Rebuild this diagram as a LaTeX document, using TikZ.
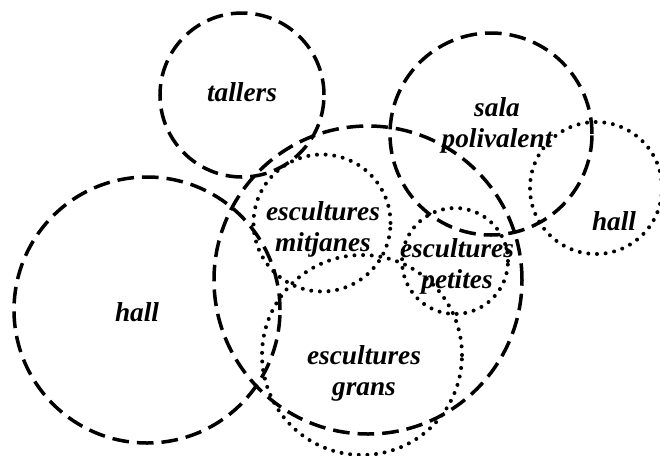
\documentclass[tikz,border=0pt]{standalone}
\usepackage{fontspec}
\setmainfont{Liberation Serif}
\usetikzlibrary{positioning}
\tikzstyle{zone}=[draw, circle, inner sep=0, line width=1.05mm,
dash pattern=on 5mm off 2.4mm]
\tikzstyle{spot}=[draw, circle, inner sep=0, line width=1.2mm,
line cap=round, dash pattern=on 0mm off 2.6mm]
\tikzstyle{lbl}=[inner sep=0, align=center,
font=\bfseries\itshape\fontsize{23.3}{26.5}\selectfont]

\begin{document}
\begin{tikzpicture}[x=0.3mm, y=-0.3mm]
    \useasboundingbox (0,0) rectangle (660,455);

    % dashed areas
    \node[zone, minimum size=49.2mm] (tallers) at (242,95) {} ;
    \node[zone, minimum size=60.6mm] (sala) at (491,134) {} ;
    \node[zone, minimum size=92.4mm] (museu) at (368,280) {} ;
    \node[zone, minimum size=79.8mm] (hallA) at (147,310) {} ;

    % dotted areas
    \node[spot, minimum size=39.6mm] (hallB) at (596,188) {} ;
    \node[spot, minimum size=41.1mm] (mitjanes) at (322,223) {} ;
    \node[spot, minimum size=31.8mm] (petites) at (455,261) {} ;
    \node[spot, minimum size=60mm] (grans) at (362,355) {} ;

    % labels
    \node[lbl] (Ltallers) at (242,92) {tallers} ;
    \node[lbl] (Lsala) at (497,125) {sala\\polivalent} ;
    \node[lbl] (LhallA) at (137,312) {hall} ;
    \node[lbl] (LhallB) at (614,221) {hall} ;
    \node[lbl] (Lmitjanes) at (323,229) {escultures\\mitjanes} ;
    \node[lbl] (Lpetites) at (457,266) {escultures\\petites} ;
    \node[lbl] (Lgrans) at (364,373) {escultures\\grans} ;
\end{tikzpicture}
\end{document}
